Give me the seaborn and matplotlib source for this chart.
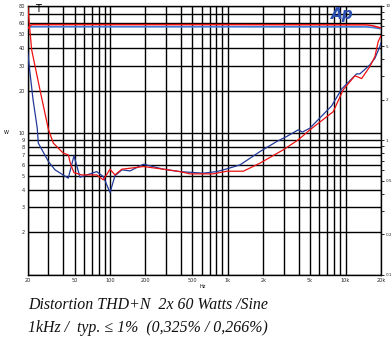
import matplotlib
matplotlib.use("Agg")
import matplotlib.pyplot as plt
import seaborn as sns
import pandas as pd
from matplotlib.ticker import FixedLocator, NullFormatter, FixedFormatter

# ---- data ----
red_thd_hz = [20, 21.6, 25.4, 30, 33, 40.1, 44.2, 46.3, 49.4, 57.5, 77, 87.7, 100, 110, 126,
              148, 192, 283, 393, 477, 752, 978, 1353, 1876, 2956, 3964, 4980, 7858, 9550,
              12000, 13690, 16100, 17760, 18930, 19576, 20000]
red_thd_pct = [10, 4.69, 2.37, 1.2, 0.952, 0.802, 0.779, 0.664, 0.575, 0.553, 0.553, 0.508, 0.61,
               0.553, 0.61, 0.62, 0.638, 0.61, 0.585, 0.563, 0.563, 0.589, 0.589, 0.676, 0.849,
               1.007, 1.195, 1.63, 2.37, 3.01, 2.87, 3.53, 4.19, 5.41, 5.74, 6.0]

blue_thd_hz = [20, 22.2, 24.1, 24.6, 30, 34.1, 44.2, 49.4, 55.6, 77, 87.7, 100, 110, 126, 148,
               192, 283, 393, 619, 804, 978, 1268, 1876, 2600, 3160, 3964, 4300, 4980, 7614,
               9260, 12414, 13240, 16100, 17760, 19576, 20000]
blue_thd_pct = [4.46, 2.0, 1.23, 0.952, 0.695, 0.603, 0.523, 0.766, 0.532, 0.585, 0.537, 0.409,
                0.544, 0.603, 0.592, 0.664, 0.61, 0.585, 0.57, 0.585, 0.613, 0.656, 0.824, 0.978,
                1.066, 1.195, 1.15, 1.23, 1.8, 2.4, 3.11, 3.11, 3.63, 4.07, 4.97, 5.3]

red_pow_hz = [20, 21, 22, 1000, 15000, 17000, 20000]
red_pow_w = [54.5, 58.0, 58.6, 58.6, 58.4, 57.6, 55.5]
blue_pow_hz = [20.5, 22, 1000, 15000, 17000, 20000]
blue_pow_w = [56.4, 56.6, 56.6, 56.5, 56.0, 54.8]

x_ticks = [20, 50, 100, 200, 500, 1000, 2000, 5000, 10000, 20000]
x_labels = ["20", "50", "100", "200", "500", "1k", "2k", "5k", "10k", "20k"]
x_grid = [20, 30, 40, 50, 60, 70, 80, 90, 100, 200, 300, 400, 500, 600, 700, 800, 900,
          1000, 2000, 3000, 4000, 5000, 6000, 7000, 8000, 9000, 10000, 20000]
left_ticks = [2, 3, 4, 5, 6, 7, 8, 9, 10, 20, 30, 40, 50, 60, 70, 80]
left_grid = [1, 2, 3, 4, 5, 6, 7, 8, 9, 10, 20, 30, 40, 50, 60, 70, 80]
right_major = [0.1, 0.2, 0.5, 1, 2, 5, 10]
right_labels = ["0.1", "0.2", "0.5", "1", "2", "5", "10"]
right_minor = [0.3, 0.4, 0.6, 0.7, 0.8, 0.9, 3, 4, 6, 7, 8, 9]

caption1 = "Distortion THD+N  2x 60 Watts /Sine"
caption2 = "1kHz /  typ. \u2264 1%  (0,325% / 0,266%)"

RED = "#ee1111"
BLUE = "#22399a"
BLUE_P = "#3f7bd6"

sns.set_style("white")
fig = plt.figure(figsize=(3.92, 3.44), dpi=100)
ax = fig.add_axes([0.0707, 0.2006, 0.9013, 0.7834])
ax.set_xscale("log")
ax.set_yscale("log")
ax.set_xlim(20, 20000)
ax.set_ylim(1, 80)

# grid
for gx in x_grid:
    ax.axvline(gx, color="black", lw=1.0, zorder=1)
for gy in left_grid:
    ax.axhline(gy, color="black", lw=1.0, zorder=1)

ax.xaxis.set_major_locator(FixedLocator(x_ticks))
ax.xaxis.set_major_formatter(FixedFormatter(x_labels))
ax.xaxis.set_minor_locator(FixedLocator([]))
ax.yaxis.set_major_locator(FixedLocator(left_ticks))
ax.yaxis.set_major_formatter(FixedFormatter([str(v) for v in left_ticks]))
ax.yaxis.set_minor_locator(FixedLocator([]))
ax.tick_params(axis="both", length=0, labelsize=3.6, pad=2)
for s in ax.spines.values():
    s.set_color("black")
    s.set_linewidth(1.0)

# power curves (left axis, W)
dp_r = pd.DataFrame({"f": red_pow_hz, "v": red_pow_w})
dp_b = pd.DataFrame({"f": blue_pow_hz, "v": blue_pow_w})
sns.lineplot(data=dp_b, x="f", y="v", ax=ax, color=BLUE_P, lw=1.2, estimator=None, sort=False, zorder=3)
sns.lineplot(data=dp_r, x="f", y="v", ax=ax, color=RED, lw=1.1, estimator=None, sort=False, zorder=4)
ax.set_xlabel("")
ax.set_ylabel("")

# THD curves (right axis, %)
ax2 = ax.twinx()
ax2.set_yscale("log")
ax2.set_ylim(0.1, 10)
dt_r = pd.DataFrame({"f": red_thd_hz, "v": red_thd_pct})
dt_b = pd.DataFrame({"f": blue_thd_hz, "v": blue_thd_pct})
sns.lineplot(data=dt_b, x="f", y="v", ax=ax2, color=BLUE, lw=0.9, estimator=None, sort=False, zorder=3)
sns.lineplot(data=dt_r, x="f", y="v", ax=ax2, color=RED, lw=0.9, estimator=None, sort=False, zorder=4)
ax2.set_xlim(20, 20000)
ax2.set_ylabel("")
ax2.set_xlabel("")
ax2.yaxis.set_major_locator(FixedLocator(right_major))
ax2.yaxis.set_major_formatter(FixedFormatter(right_labels))
ax2.yaxis.set_minor_locator(FixedLocator(right_minor))
ax2.yaxis.set_minor_formatter(NullFormatter())
ax2.tick_params(axis="y", which="major", direction="out", length=2.5, width=0.7, labelsize=3.0, pad=0.8)
ax2.tick_params(axis="y", which="minor", direction="out", length=1.8, width=0.7)
for s in ax2.spines.values():
    s.set_visible(False)

# annotations
fig.text(38 / 392, 1 - 9 / 344, "T", fontsize=7, color="black", ha="center", va="center")
fig.text(342 / 392, 1 - 14 / 344, "Ap", fontsize=11, color="#2a4fb0", fontweight="bold",
         fontstyle="italic", ha="center", va="center")
fig.text(6 / 392, 1 - 132 / 344, "W", fontsize=3.6, color="black", ha="center", va="center")
fig.text(203 / 392, 1 - 287 / 344, "Hz", fontsize=3.6, color="black", ha="center", va="center")

fig.text(28 / 392, 1 - 305 / 344, caption1, fontsize=11.4, fontstyle="italic",
         family=["Liberation Serif", "DejaVu Serif"], ha="left", va="center", color="#111111")
fig.text(28 / 392, 1 - 328 / 344, caption2, fontsize=11.4, fontstyle="italic",
         family=["Liberation Serif", "DejaVu Serif"], ha="left", va="center", color="#111111")

fig.savefig("out.png", dpi=100)
